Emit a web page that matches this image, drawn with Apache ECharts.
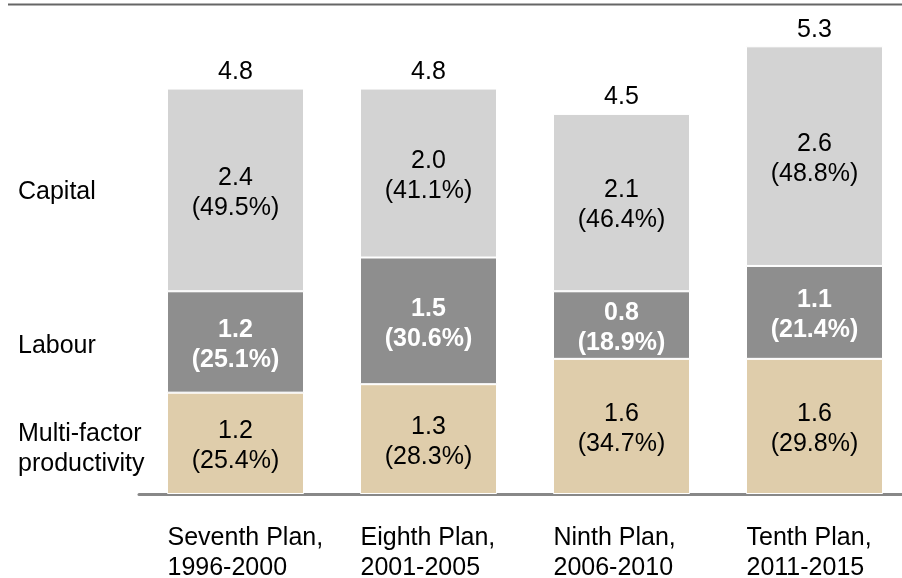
<!DOCTYPE html>
<html>
<head>
<meta charset="utf-8">
<script src="https://cdn.jsdelivr.net/npm/echarts@6/dist/echarts.min.js"></script>
<style>
html,body{margin:0;padding:0;background:#fff;}
#chart{width:902px;height:578px;}
</style>
</head>
<body>
<div id="chart"></div>
<script>
var categories = ['Seventh Plan,\n1996-2000', 'Eighth Plan,\n2001-2005', 'Ninth Plan,\n2006-2010', 'Tenth Plan,\n2011-2015'];
var mfpValues = [1.2, 1.3, 1.6, 1.6];
var mfpPct = ['25.4%', '28.3%', '34.7%', '29.8%'];
var labourValues = [1.2, 1.5, 0.8, 1.1];
var labourPct = ['25.1%', '30.6%', '18.9%', '21.4%'];
var capitalValues = [2.4, 2.0, 2.1, 2.6];
var capitalPct = ['49.5%', '41.1%', '46.4%', '48.8%'];
var totals = [4.8, 4.8, 4.5, 5.3];
var seriesNames = ['Multi-factor productivity', 'Labour', 'Capital'];

var FONT = '"Liberation Sans", Arial, sans-serif';
var FS = 25;
var chart = echarts.init(document.getElementById('chart'), null, {renderer: 'canvas'});

function segLabel(values, pcts, color, bold) {
  return {
    show: true,
    position: 'inside',
    offset: [0, 3],
    color: color,
    fontFamily: FONT,
    fontSize: FS,
    fontWeight: bold ? 'bold' : 'normal',
    lineHeight: 30,
    formatter: function (p) {
      return values[p.dataIndex].toFixed(1) + '\n(' + pcts[p.dataIndex] + ')';
    }
  };
}

var option = {
  animation: false,
  backgroundColor: '#ffffff',
  grid: {left: 139, width: 772, top: 21, bottom: 84, containLabel: false, outerBoundsMode: 'none'},
  xAxis: {
    type: 'category',
    data: categories,
    axisLine: {show: true, lineStyle: {color: '#888888', width: 3}},
    axisTick: {show: false},
    axisLabel: {
      interval: 0,
      hideOverlap: false,
      color: '#000',
      fontFamily: FONT,
      fontSize: FS,
      lineHeight: 30,
      align: 'left',
      margin: 29,
      padding: [0, 0, 0, -68]
    }
  },
  yAxis: {
    type: 'value',
    min: 0,
    max: 5.6,
    show: false,
    splitLine: {show: false}
  },
  series: [
    {
      name: seriesNames[0], type: 'bar', stack: 'total', barWidth: 137,
      data: mfpValues,
      itemStyle: {color: '#dfcdab', borderColor: '#ffffff', borderWidth: 1},
      label: segLabel(mfpValues, mfpPct, '#000', false)
    },
    {
      name: seriesNames[1], type: 'bar', stack: 'total', barWidth: 137,
      data: labourValues,
      itemStyle: {color: '#8e8e8e', borderColor: '#ffffff', borderWidth: 1},
      label: segLabel(labourValues, labourPct, '#ffffff', true)
    },
    {
      name: seriesNames[2], type: 'bar', stack: 'total', barWidth: 137,
      data: capitalValues,
      itemStyle: {color: '#d3d3d3', borderColor: '#ffffff', borderWidth: 1},
      label: segLabel(capitalValues, capitalPct, '#000', false)
    },
    {
      name: 'Total', type: 'bar', stack: 'total', barWidth: 137,
      data: totals.map(function () { return 0; }),
      itemStyle: {color: 'transparent'},
      label: {
        show: true, position: 'top', distance: 4,
        color: '#000', fontFamily: FONT, fontSize: FS,
        formatter: function (p) { return totals[p.dataIndex].toFixed(1); }
      }
    }
  ],
  graphic: [
    {type: 'line', shape: {x1: 8, y1: 4.5, x2: 902, y2: 4.5}, style: {stroke: '#666666', lineWidth: 2}},
    {type: 'text', x: 18, y: 192, style: {text: 'Capital', fill: '#000', font: FS + 'px ' + FONT, textVerticalAlign: 'middle', verticalAlign: 'middle'}},
    {type: 'text', x: 18, y: 346, style: {text: 'Labour', fill: '#000', font: FS + 'px ' + FONT, textVerticalAlign: 'middle', verticalAlign: 'middle'}},
    {type: 'text', x: 18, y: 449, style: {text: 'Multi-factor\nproductivity', fill: '#000', font: FS + 'px ' + FONT, lineHeight: 30, textVerticalAlign: 'middle', verticalAlign: 'middle'}}
  ]
};
chart.setOption(option);
</script>
</body>
</html>
